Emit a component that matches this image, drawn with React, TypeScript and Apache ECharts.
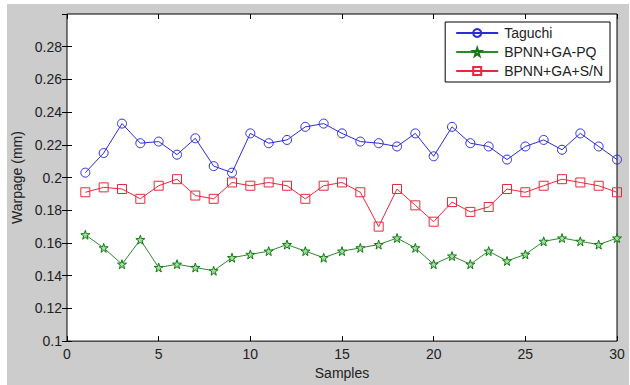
import React, { useEffect, useRef } from "react";
import * as echarts from "echarts";

const samples = Array.from({ length: 30 }, (_, i) => i + 1);
const taguchi = [0.203, 0.215, 0.233, 0.221, 0.222, 0.214, 0.224, 0.207, 0.203, 0.227,
  0.221, 0.223, 0.231, 0.233, 0.227, 0.222, 0.221, 0.219, 0.227, 0.213,
  0.231, 0.221, 0.219, 0.211, 0.219, 0.223, 0.217, 0.227, 0.219, 0.211];
const bpnnPQ = [0.165, 0.157, 0.147, 0.162, 0.145, 0.147, 0.145, 0.143, 0.151, 0.153,
  0.155, 0.159, 0.155, 0.151, 0.155, 0.157, 0.159, 0.163, 0.157, 0.147,
  0.152, 0.147, 0.155, 0.149, 0.153, 0.161, 0.163, 0.161, 0.159, 0.163];
const bpnnSN = [0.191, 0.194, 0.193, 0.187, 0.195, 0.199, 0.189, 0.187, 0.197, 0.195,
  0.197, 0.195, 0.187, 0.195, 0.197, 0.191, 0.170, 0.193, 0.183, 0.173,
  0.185, 0.179, 0.182, 0.193, 0.191, 0.195, 0.199, 0.197, 0.195, 0.191];
const seriesNames = ["Taguchi", "BPNN+GA-PQ", "BPNN+GA+S/N"];

const STAR = "path://M50,0 L61.8,35.5 L100,36.3 L69.1,58.8 L79.4,95.1 L50,73.5 L20.6,95.1 L30.9,58.8 L0,36.3 L38.2,35.5 Z";

export default function App() {
  const ref = useRef<HTMLDivElement>(null);
  useEffect(() => {
    if (!ref.current) return;
    const chart = echarts.init(ref.current, null, { renderer: "svg" });
    const font = "Arial, 'Liberation Sans', sans-serif";
    const pairs = (arr: number[]) => samples.map((s, i) => [s, arr[i]]);
    const xBase = {
      type: "value" as const,
      min: 0,
      max: 30,
      interval: 5,
      splitLine: { show: false },
      axisLine: { show: false },
      axisTick: { show: true, inside: true, length: 5, lineStyle: { color: "#000" } },
    };
    const yBase = {
      type: "value" as const,
      min: 0.1,
      max: 0.3,
      interval: 0.02,
      splitLine: { show: false },
      axisLine: { show: false },
      axisTick: { show: true, inside: true, length: 5, lineStyle: { color: "#000" } },
    };
    chart.setOption({
      animation: false,
      backgroundColor: "transparent",
      grid: {
        left: 67,
        top: 14,
        right: 13,
        bottom: 41,
        show: true,
        backgroundColor: "#fff",
        borderColor: "#000",
        borderWidth: 1,
      },
      xAxis: [
        {
          ...xBase,
          position: "bottom",
          name: "Samples",
          nameLocation: "middle",
          nameGap: 23,
          nameTextStyle: { fontFamily: font, fontSize: 14, color: "#222" },
          axisLabel: { fontFamily: font, fontSize: 14, color: "#222", margin: 6 },
        },
        { ...xBase, position: "top", axisLabel: { show: false } },
      ],
      yAxis: [
        {
          ...yBase,
          position: "left",
          name: "Warpage (mm)",
          nameLocation: "middle",
          nameGap: 43,
          nameTextStyle: { fontFamily: font, fontSize: 14, color: "#222" },
          axisLabel: {
            fontFamily: font,
            fontSize: 14,
            color: "#222",
            margin: 5,
            showMaxLabel: false,
            formatter: (v: number) => String(+v.toFixed(2)),
          },
        },
        { ...yBase, position: "right", axisLabel: { show: false } },
      ],
      legend: {
        orient: "vertical",
        right: 20,
        top: 22,
        padding: [4, 7, 4, 10],
        itemGap: 5,
        itemWidth: 42,
        itemHeight: 10,
        backgroundColor: "#fff",
        borderColor: "#000",
        borderWidth: 1,
        borderRadius: 0,
        textStyle: { fontFamily: font, fontSize: 14, color: "#222", padding: [0, 0, 0, 1] },
        data: seriesNames,
      },
      series: [
        {
          name: seriesNames[0],
          type: "line",
          data: pairs(taguchi),
          symbol: "circle",
          symbolSize: 9,
          lineStyle: { color: "#2b2bd9", width: 1 },
          itemStyle: { color: "transparent", borderColor: "#2b2bd9", borderWidth: 1 },
        },
        {
          name: seriesNames[1],
          type: "line",
          data: pairs(bpnnPQ),
          symbol: STAR,
          symbolSize: 9,
          lineStyle: { color: "#2a8a2a", width: 1 },
          itemStyle: { color: "#a6dca6", borderColor: "#0f7a0f", borderWidth: 1 },
        },
        {
          name: seriesNames[2],
          type: "line",
          data: pairs(bpnnSN),
          symbol: "rect",
          symbolSize: 9,
          lineStyle: { color: "#e8283c", width: 1 },
          itemStyle: { color: "transparent", borderColor: "#e8283c", borderWidth: 1 },
        },
      ],
    });
    return () => chart.dispose();
  }, []);
  return (
    <div style={{ position: "fixed", left: 0, top: 0, width: 630, height: 385, background: "#fff" }}>
      <div style={{ position: "absolute", left: 7, top: 4, width: 622, height: 381, background: "#cccccc" }} />
      <div ref={ref} style={{ position: "absolute", left: 0, top: 0, width: 630, height: 385 }} />
    </div>
  );
}
